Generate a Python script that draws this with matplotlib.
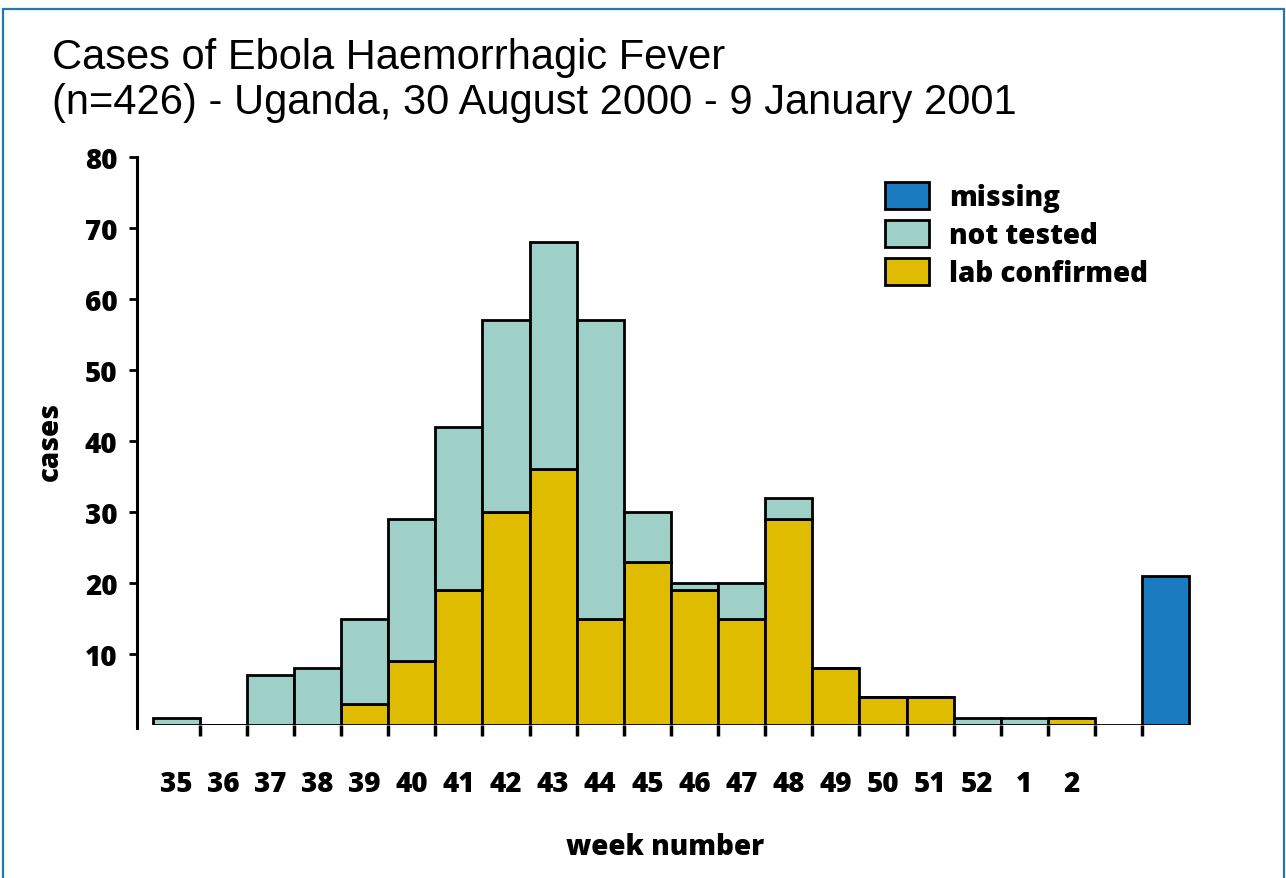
"""
Casos de fiebre hemorrágica del Ébola, Uganda 2000-2001, por semana.
Barras apiladas: confirmados por laboratorio + no analizados, y barra aparte de "missing".
"""

import matplotlib
matplotlib.use("Agg")
import matplotlib.pyplot as plt
from matplotlib.patches import Patch, Rectangle

# datos
semanas = ["35", "36", "37", "38", "39", "40", "41", "42", "43", "44",
           "45", "46", "47", "48", "49", "50", "51", "52", "1", "2"]
lab_confirmado = [0, 0, 0, 0, 3, 9, 19, 30, 36, 15,
                  23, 19, 15, 29, 8, 4, 4, 0, 0, 1]
no_analizado = [1, 0, 7, 8, 12, 20, 23, 27, 32, 42,
                7, 1, 5, 3, 0, 0, 0, 1, 1, 0]
sin_dato = 21
yticks = [10, 20, 30, 40, 50, 60, 70, 80]

COLOR_LAB = "#E0BC00"
COLOR_NT = "#9FD0C8"
COLOR_MISS = "#1B7BC0"
BORDE = "#2278B5"

FUENTE = ["Open Sans", "DejaVu Sans"]
PESO = "heavy"
TAM = 20

fig = plt.figure(figsize=(12.86, 8.79), dpi=100)
fig.patch.set_facecolor("white")

# marco azul alrededor de la figura
fig.patches.append(Rectangle((3 / 1286, -0.05), 1281 / 1286, 1.05 - 10 / 879,
                             transform=fig.transFigure, fill=False,
                             edgecolor=BORDE, linewidth=1.6))

ax = fig.add_axes([137 / 1286, (879 - 726) / 879, 1057 / 1286, 568 / 879])

n = len(semanas)
x = list(range(n))
estilo = dict(width=1.0, edgecolor="black", linewidth=2.0, align="center")

ax.bar(x, lab_confirmado, color=COLOR_LAB, **estilo)
ax.bar(x, no_analizado, bottom=lab_confirmado, color=COLOR_NT, **estilo)
# hueco vacío y barra de datos faltantes
ax.bar([n], [0], color="white", **estilo)
ax.bar([n + 1], [sin_dato], color=COLOR_MISS, **estilo)

ax.set_xlim(-0.83, n + 1.6)
ax.set_ylim(0, 80)

for lado in ["top", "right", "bottom"]:
    ax.spines[lado].set_visible(False)
ax.spines["left"].set_linewidth(2.2)
ax.spines["left"].set_bounds(-0.4, 80)

ax.set_yticks(yticks)
ax.set_yticklabels([str(v) for v in yticks], fontsize=TAM, fontweight=PESO,
                   family=FUENTE)
ax.tick_params(axis="y", length=6, width=2, pad=8)

ax.set_xticks(x)
ax.set_xticklabels(semanas, fontsize=TAM, fontweight=PESO, family=FUENTE)
ax.set_xticks([i + 0.5 for i in range(n + 1)], minor=True)
ax.tick_params(axis="x", which="major", length=0, pad=32)
ax.tick_params(axis="x", which="minor", length=8, width=2.5, direction="out")

ax.set_xlabel("week number", fontsize=TAM, fontweight=PESO, family=FUENTE,
              labelpad=24)
ax.set_ylabel("cases", fontsize=TAM, fontweight=PESO, family=FUENTE,
              labelpad=14)

leyenda = [Patch(facecolor=COLOR_MISS, edgecolor="black", linewidth=2, label="missing"),
           Patch(facecolor=COLOR_NT, edgecolor="black", linewidth=2, label="not tested"),
           Patch(facecolor=COLOR_LAB, edgecolor="black", linewidth=2, label="lab confirmed")]
ax.legend(handles=leyenda, loc="upper left", bbox_to_anchor=(0.684, 1.0),
          frameon=False, prop={"family": FUENTE, "weight": PESO, "size": TAM},
          handlelength=1.6, handleheight=1.1, handletextpad=0.7, labelspacing=0.3)

fig.text(52 / 1286, 1 - 58 / 879, "Cases of Ebola Haemorrhagic Fever",
         fontsize=30, family=["Liberation Sans Narrow", "Liberation Sans"],
         va="center", ha="left")
fig.text(52 / 1286, 1 - 103 / 879, "(n=426) - Uganda, 30 August 2000 - 9 January 2001",
         fontsize=30, family=["Liberation Sans Narrow", "Liberation Sans"],
         va="center", ha="left")

fig.savefig("out.png", dpi=100, facecolor="white")
